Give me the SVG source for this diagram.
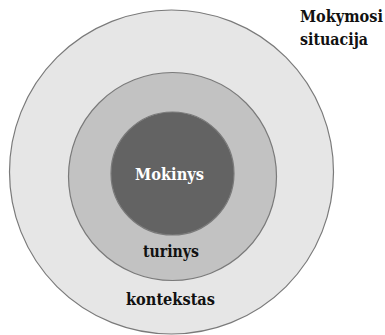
<svg xmlns="http://www.w3.org/2000/svg" width="385" height="335" viewBox="0 0 385 335">
  <style>
    .ring { stroke: #7a7a7a; stroke-width: 1.2; }
    .lbl { font-family: "DejaVu Serif Condensed", "DejaVu Serif", serif; font-weight: bold; font-size: 16.5px; fill: #111111; }
  </style>
  <rect width="385" height="335" fill="#ffffff"/>
  <g id="kontekstas">
    <circle class="ring" cx="171.5" cy="172" r="162" fill="#e6e6e6"/>
    <text class="lbl" x="126" y="304.5" textLength="89" lengthAdjust="spacingAndGlyphs">kontekstas</text>
  </g>
  <g id="turinys">
    <circle class="ring" cx="172.5" cy="176.5" r="104" fill="#c2c2c2"/>
    <text class="lbl" x="143" y="256.5" textLength="56" lengthAdjust="spacingAndGlyphs">turinys</text>
  </g>
  <g id="mokinys">
    <circle class="ring" cx="172.5" cy="173.5" r="61.5" fill="#636363"/>
    <text class="lbl" x="135" y="180" textLength="69" lengthAdjust="spacingAndGlyphs" style="fill:#ffffff">Mokinys</text>
  </g>
  <g id="mokymosi-situacija">
    <text class="lbl" x="300" y="21.5" textLength="83" lengthAdjust="spacingAndGlyphs">Mokymosi</text>
    <text class="lbl" x="300" y="45" textLength="68" lengthAdjust="spacingAndGlyphs">situacija</text>
  </g>
  <g id="connectors"/>
</svg>
